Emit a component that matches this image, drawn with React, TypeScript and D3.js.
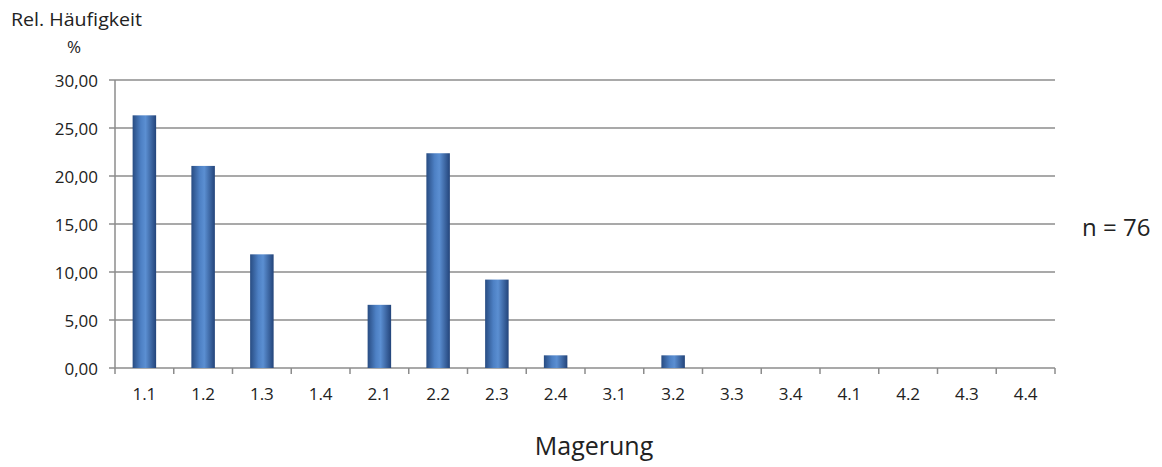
import React from "react";
import * as d3 from "d3";

const categories = ["1.1","1.2","1.3","1.4","2.1","2.2","2.3","2.4","3.1","3.2","3.3","3.4","4.1","4.2","4.3","4.4"];
const values = [26.32, 21.05, 11.84, 0, 6.58, 22.37, 9.21, 1.32, 0, 1.32, 0, 0, 0, 0, 0, 0];
const yTicks = [0, 5, 10, 15, 20, 25, 30];

const W = 1162, H = 467;
const left = 115, right = 1055, top = 80, bottom = 368;
const font = "'Open Sans', Lato, sans-serif";

export default function App() {
  const x = d3.scaleBand<string>().domain(categories).range([left, right]).paddingInner(0.6).paddingOuter(0.3);
  const xt = d3.scaleBand<string>().domain(categories).range([left, right]);
  const y = d3.scaleLinear().domain([0, 30]).range([bottom, top]);
  const fmt = (v: number) => v.toFixed(2).replace(".", ",");
  return (
    <svg width={W} height={H} style={{ position: "absolute", left: 0, top: 0, background: "#fff" }}>
      <defs>
        <linearGradient id="bar" x1="0" x2="1" y1="0" y2="0">
          <stop offset="0" stopColor="#284c82" />
          <stop offset="0.35" stopColor="#4d80c4" />
          <stop offset="0.55" stopColor="#5b8fd2" />
          <stop offset="1" stopColor="#23447a" />
        </linearGradient>
      </defs>
      <text x={11} y={26} fontFamily={font} fontSize={19} fill="#222" textLength={131} lengthAdjust="spacingAndGlyphs">Rel. Häufigkeit</text>
      <text x={67} y={53} fontFamily={font} fontSize={17} fill="#222">%</text>
      {yTicks.map(t => (
        <g key={t}>
          {t > 0 && <line x1={left} x2={right} y1={y(t)} y2={y(t)} stroke="#8c8c8c" strokeWidth={1.5} />}
          <line x1={left - 6} x2={left} y1={y(t)} y2={y(t)} stroke="#8c8c8c" strokeWidth={1.5} />
          <text x={98} y={y(t) + 7} textAnchor="end" fontFamily={font} fontSize={17} fill="#222">{fmt(t)}</text>
        </g>
      ))}
      <line x1={left} x2={left} y1={top} y2={bottom} stroke="#8c8c8c" strokeWidth={1.5} />
      <line x1={left} x2={right} y1={bottom} y2={bottom} stroke="#8c8c8c" strokeWidth={1.5} />
      {categories.map((c, i) => (
        <g key={c}>
          <line x1={xt(c)!} x2={xt(c)!} y1={bottom} y2={bottom + 6} stroke="#8c8c8c" strokeWidth={1.5} />
          {i === categories.length - 1 && (
            <line x1={right} x2={right} y1={bottom} y2={bottom + 6} stroke="#8c8c8c" strokeWidth={1.5} />
          )}
          <text x={xt(c)! + xt.bandwidth() / 2} y={bottom + 32} textAnchor="middle" fontFamily={font} fontSize={17} fill="#222">{c}</text>
        </g>
      ))}
      {categories.map((c, i) => values[i] > 0 && (
        <rect key={c} x={x(c)!} y={y(values[i])} width={x.bandwidth()} height={bottom - y(values[i])} fill="url(#bar)" />
      ))}
      <text x={1082} y={236} fontFamily={font} fontSize={24} fill="#222">n  = 76</text>
      <text x={594} y={455} textAnchor="middle" fontFamily={font} fontSize={25} fill="#222">Magerung</text>
    </svg>
  );
}
